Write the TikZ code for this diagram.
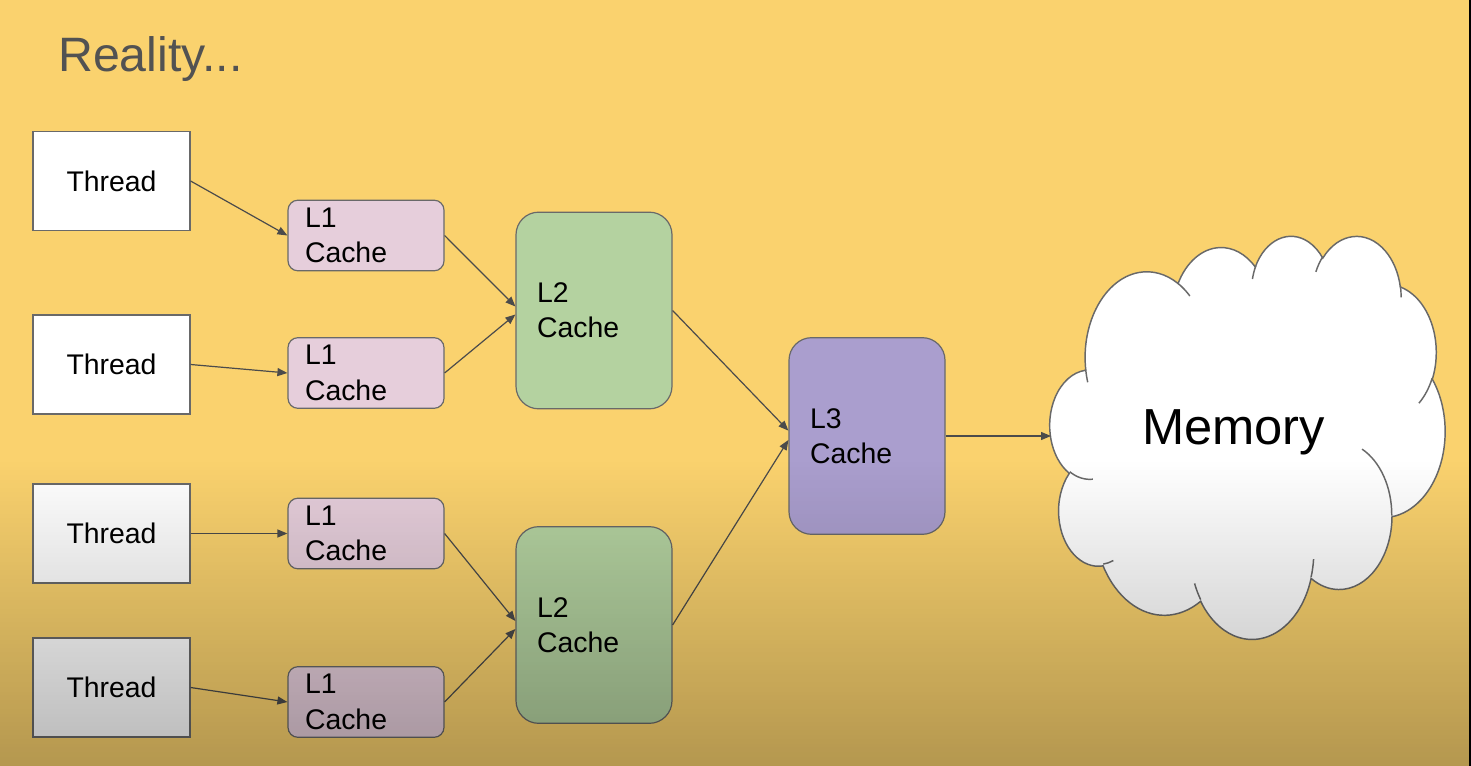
\documentclass[tikz,border=0pt]{standalone}
\usepackage{fontspec}
\setmainfont{Liberation Sans}
\usetikzlibrary{arrows.meta,fadings}
\definecolor{bgcol}{RGB}{250,210,110}
\definecolor{l1col}{RGB}{230,206,219}
\definecolor{l2col}{RGB}{180,210,160}
\definecolor{l3col}{RGB}{170,158,206}
\definecolor{edgecol}{RGB}{105,105,105}
\definecolor{arrcol}{RGB}{75,75,75}
\definecolor{titlecol}{RGB}{82,82,82}
\tikzfading[name=fadedown, top color=transparent!100, bottom color=transparent!0]
\begin{document}
\begin{tikzpicture}[x=0.75pt, y=-0.75pt,
  box/.style={draw=edgecol, line width=0.9pt, inner sep=0pt},
  lbl/.style={font=\fontsize{21.3}{26.5}\selectfont},
  threadbox/.style={box, lbl, fill=white, minimum width=117.75pt, minimum height=74.25pt},
  l1box/.style={box, lbl, fill=l1col, rounded corners=7.5pt, minimum width=117pt, minimum height=53pt, text width=91.5pt, inner xsep=12.75pt, align=left},
  bigbox/.style={box, lbl, rounded corners=17pt, minimum width=117pt, minimum height=147.5pt, text width=85.5pt, inner xsep=15.75pt, align=left},
  link/.style={draw=arrcol, line width=0.9pt, -{Triangle[length=7.5pt,width=6pt]}},
  cloudline/.style={draw=edgecol, line width=1.1pt},
  ooarc/.style n args={4}{start angle={atan2(#1*sin(#3),#2*cos(#3))},
     delta angle={mod(atan2(#1*sin(#3+#4),#2*cos(#3+#4))-atan2(#1*sin(#3),#2*cos(#3))+720,360)},
     x radius=#1, y radius=#2}
]
\fill[bgcol] (0,0) rectangle (1471,766);
\useasboundingbox (0,0) rectangle (1471,766);

\node[anchor=base west, inner sep=0pt, text=titlecol, font=\fontsize{36.2}{40}\selectfont] (title) at (58,72) {Reality...};

% threads
\node[threadbox] (t1) at (111.5,181) {Thread};
\node[threadbox] (t2) at (111.5,364.5) {Thread};
\node[threadbox] (t3) at (111.5,533.5) {Thread};
\node[threadbox] (t4) at (111.5,687.5) {Thread};

% L1
\node[l1box] (l1a) at (366,235.5) {L1\\Cache};
\node[l1box] (l1b) at (366,373) {L1\\Cache};
\node[l1box] (l1c) at (366,533.5) {L1\\Cache};
\node[l1box] (l1d) at (366,702) {L1\\Cache};

% L2, L3
\node[bigbox, fill=l2col] (l2a) at (594,310.5) {L2\\Cache};
\node[bigbox, fill=l2col] (l2b) at (594,625) {L2\\Cache};
\node[bigbox, fill=l3col] (l3) at (867,436) {L3\\Cache};

% cloud
\begin{scope}[shift={(1050,235)}, x=0.068576pt, y=-0.069965pt]
\path[cloudline, fill=white] (390,1437)
  arc[ooarc={675.3}{919}{-190.48748}{123.78053}]
  arc[ooarc={533.3}{726.7}{-144.10238}{89.94523}]
  arc[ooarc={436.5}{594.5}{-145.80792}{99.72302}]
  arc[ooarc={485.7}{659.5}{-130.98607}{117.24173}]
  arc[ooarc={533.3}{727.3}{-78.70888}{109.02692}]
  arc[ooarc={677.5}{922}{-46.26725}{130.269}]
  arc[ooarc={578.5}{786.7}{0.62502}{114.03333}]
  arc[ooarc={675.2}{921.5}{22.4516}{115.17255}]
  arc[ooarc={772}{1054.3}{66.24263}{75.71102}]
  arc[ooarc={436}{591.8}{-274.94208}{146.73557}]
  arc[ooarc={434.5}{594.5}{-246.8285}{152.51885}]
  -- cycle;
\path[cloudline]
  (469.3,2617.7) arc[ooarc={434.5}{594.5}{86.742}{26.4295}]
  (692.8,3489.9) arc[ooarc={436}{591.8}{73.61047}{11.44747}]
  (1647.8,3909) arc[ooarc={675.2}{921.5}{137.62415}{14.0811}]
  (2882.7,3475.1) arc[ooarc={675.2}{921.5}{6.45327}{15.99835}]
  (3412.9,2295.4) arc[ooarc={578.5}{786.7}{-70.29235}{70.91737}]
  (4179.8,1535.4) arc[ooarc={533.3}{727.3}{30.31803}{27.7515}]
  (3832.4,542.6) arc[ooarc={485.7}{659.5}{-13.74433}{14.85412}]
  (2907.8,395.2) arc[ooarc={485.7}{659.5}{-149.18145}{18.19588}]
  (2214.1,472) arc[ooarc={436.5}{594.5}{-163.49427}{17.69715}]
  (1400,519.2) arc[ooarc={675.3}{919}{-66.70695}{12.31935}]
  (412.7,1578.9) arc[ooarc={675.3}{919}{157.65435}{11.85817}];
\end{scope}
\node[anchor=base, inner sep=0pt, font=\fontsize{38}{42}\selectfont] (mem) at (1233.5,445) {Memory};
\coordinate (memin) at (1051,436);

% connectors
\draw[link] (t1.east) -- (l1a.west);
\draw[link] (t2.east) -- (l1b.west);
\draw[link] (t3.east) -- (l1c.west);
\draw[link] (t4.east) -- (l1d.west);
\draw[link] (l1a.east) -- ([yshift=3pt]l2a.west);
\draw[link] (l1b.east) -- ([yshift=-3pt]l2a.west);
\draw[link] (l1c.east) -- ([yshift=3pt]l2b.west);
\draw[link] (l1d.east) -- ([yshift=-3pt]l2b.west);
\draw[link] (l2a.east) -- ([yshift=4pt]l3.west);
\draw[link] (l2b.east) -- ([yshift=-3pt]l3.west);
\draw[link] (l3.east) -- (memin);

% video darkening toward the bottom
\fill[black, fill opacity=0.28, path fading=fadedown] (0,460) rectangle (1471,766);
\fill[black] (1469,0) rectangle (1471,766);
\end{tikzpicture}
\end{document}
